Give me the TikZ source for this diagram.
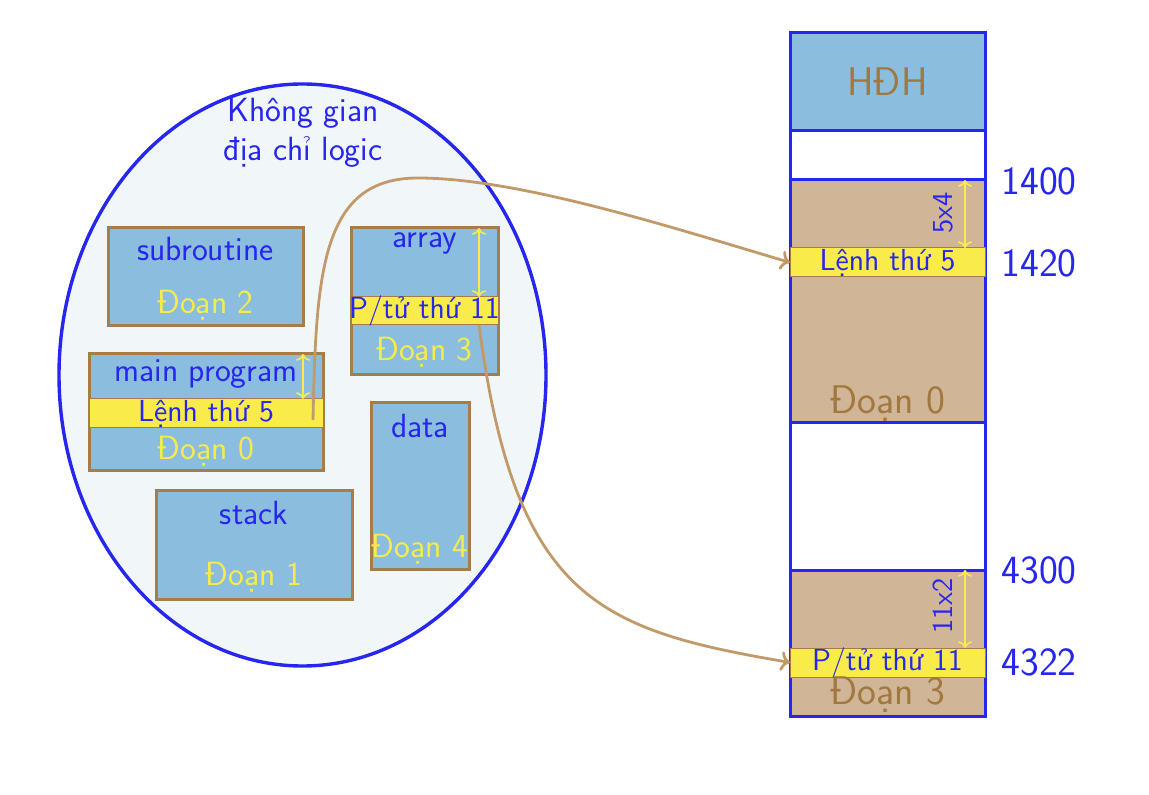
\documentclass[tikz,border=0pt]{standalone}
\usepackage{tikz}
\usetikzlibrary{arrows.meta, positioning, shapes.geometric}
\definecolor{segfill}{HTML}{8BBEDE}
\definecolor{segline}{HTML}{A67C48}
\definecolor{txtblue}{HTML}{2626EE}
\definecolor{txtyel}{HTML}{F6EB4C}
\definecolor{bandfill}{HTML}{F9EC4A}
\definecolor{memfill}{HTML}{D0B597}
\definecolor{memtxt}{HTML}{A07840}
\definecolor{linkline}{HTML}{C29A6A}
\definecolor{spacefill}{HTML}{F1F6F9}
\tikzset{
  segbox/.style   = {draw=segline, fill=segfill, line width=1.5pt, inner sep=0pt, outer sep=0pt},
  segband/.style  = {draw=segline, fill=bandfill, line width=0.5pt, inner sep=0pt, outer sep=0pt,
                     minimum height=14.5pt},
  memcell/.style  = {draw=txtblue, line width=1.5pt, inner sep=0pt, outer sep=0pt, minimum width=97.5pt},
  segname/.style  = {font=\sffamily\fontsize{16.8}{19.5}\selectfont, text=txtblue},
  segtag/.style   = {font=\sffamily\fontsize{16.8}{19.5}\selectfont, text=txtyel},
  bandtxt/.style  = {font=\sffamily\fontsize{15.2}{17}\selectfont, text=txtblue},
  memtag/.style   = {font=\sffamily\fontsize{20}{22}\selectfont, text=memtxt},
  addr/.style     = {font=\sffamily\fontsize{20}{22}\selectfont, text=txtblue, anchor=west, inner sep=0pt},
  offs/.style     = {font=\sffamily\fontsize{14.5}{16}\selectfont, text=txtblue, rotate=90},
  span/.style     = {<->, draw=bandfill, line width=0.8pt},
  link/.style     = {->, draw=linkline, line width=1.4pt},
}
\begin{document}
\begin{tikzpicture}[x=0.5pt, y=-0.5pt]
  \useasboundingbox (0,0) rectangle (1149,795);
  % logical address space
  \node[ellipse, draw=txtblue, fill=spacefill, line width=1.7pt, minimum width=243.5pt, minimum height=291pt,
        inner sep=0pt] (space) at (302.5,375) {};
  \node[segname, align=center] (spacettl) at (303,133) {Không gian\\địa chỉ logic};
  % segments
  \node[segbox, minimum width=97.5pt, minimum height=49pt] (sub) at (205.5,277) {};
  \node[segbox, minimum width=117pt, minimum height=58.5pt] (main) at (206,412.5) {};
  \node[segbox, minimum width=73.5pt, minimum height=73.5pt] (arr) at (424.5,301.5) {};
  \node[segbox, minimum width=49pt, minimum height=83pt] (dat) at (420,486) {};
  \node[segbox, minimum width=98pt, minimum height=54pt] (stk) at (254,545) {};
  \node[segband, minimum width=117pt] (mband) at (206,413.5) {};
  \node[segband, minimum width=73.5pt, minimum height=14pt] (aband) at (424.5,311) {};
  \node[segname] at (205.5,249) {subroutine};
  \node[segtag]  at (205.5,305) {Đoạn 2};
  \node[segname] at (206,374) {main program};
  \node[bandtxt] at (206,413.5) {Lệnh thứ 5};
  \node[segtag]  at (206,451) {Đoạn 0};
  \node[segname] at (424.5,243) {array};
  \node[bandtxt] at (424.5,311) {P/tử thứ 11};
  \node[segtag]  at (424.5,352) {Đoạn 3};
  \node[segname] at (420,426) {data};
  \node[segtag]  at (420,549) {Đoạn 4};
  \node[segname] at (254,513) {stack};
  \node[segtag]  at (254,577) {Đoạn 1};
  \draw[span] (303,354) -- (303,399);
  \draw[span] (479,228) -- (479,297);
  % physical memory
  \node[memcell, fill=segfill, minimum height=49pt] (os) at (887.5,82) {};
  \node[memcell, fill=white, minimum height=24.5pt] (free1) at (887.5,155.5) {};
  \node[memcell, fill=memfill, minimum height=121.5pt] (mem0) at (887.5,301.5) {};
  \node[memcell, fill=white, minimum height=73.5pt] (free2) at (887.5,496.5) {};
  \node[memcell, fill=memfill, minimum height=73pt] (mem3) at (887.5,643) {};
  \node[segband, minimum width=97.5pt] (band0) at (887.5,262.5) {};
  \node[segband, minimum width=97.5pt] (band3) at (887.5,662.5) {};
  \node[memtag]  at (887.5,82) {HĐH};
  \node[bandtxt] at (887.5,262.5) {Lệnh thứ 5};
  \node[memtag]  at (887.5,404) {Đoạn 0};
  \node[bandtxt] at (887.5,662.5) {P/tử thứ 11};
  \node[memtag]  at (887.5,695) {Đoạn 3};
  \draw[span] (965,180) -- (965,248);
  \draw[span] (965,570) -- (965,648);
  \node[offs] at (943,213) {5x4};
  \node[offs] at (943,606) {11x2};
  \node[addr] (a1400) at (1001,181) {1400};
  \node[addr] (a1420) at (1001,263) {1420};
  \node[addr] (a4300) at (1001,570) {4300};
  \node[addr] (a4322) at (1001,662) {4322};
  % mapping
  \coordinate (src0) at (313,420);
  \coordinate (src3) at (479,325);
  \draw[link] (src0) .. controls (316,270) and (322,178) .. (418,178)
              .. controls (520,178) and (680,230) .. (band0.west);
  \draw[link] (src3) .. controls (515,600) and (600,630) .. (band3.west);
\end{tikzpicture}
\end{document}
